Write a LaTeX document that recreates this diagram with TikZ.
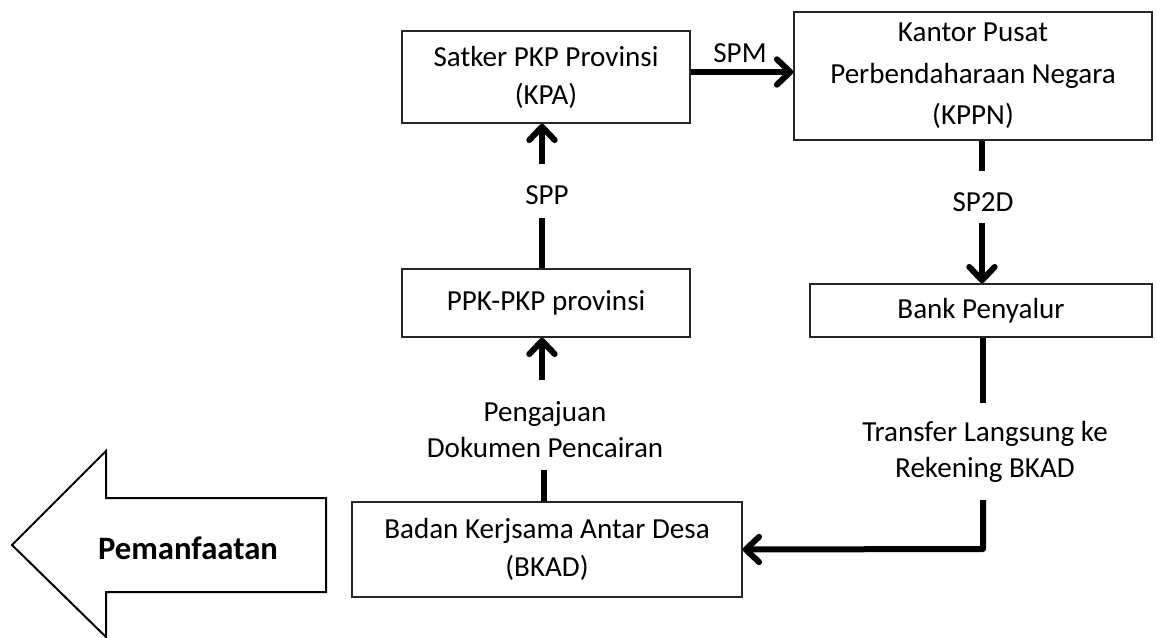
\documentclass[tikz,border=0pt]{standalone}
\usepackage{fontspec}
\setmainfont{Carlito}
\usetikzlibrary{arrows.meta,calc}
\begin{document}
\begin{tikzpicture}[x=0.75pt,y=-0.75pt,
  box/.style={draw=black!85,line width=1.1pt,rectangle,inner sep=0pt,align=center,
    font=\fontsize{21.8}{28.5}\selectfont},
  lbl/.style={inner sep=0pt,align=center,font=\fontsize{21.8}{27}\selectfont},
  conn/.style={line width=4.5pt,line join=round},
  arr/.style={conn,-{Straight Barb[length=10pt,width=19pt,round]}}
]
\useasboundingbox (0,0) rectangle (1157,638);
% boxes
\node[box,minimum width=216pt,minimum height=69pt] (sat) at (546,77) {Satker PKP Provinsi\\(KPA)};
\node[box,minimum width=268.5pt,minimum height=96pt,font=\fontsize{21.8}{31}\selectfont] (kppn) at (973,76) {Kantor Pusat\\Perbendaharaan Negara\\(KPPN)};
\node[box,minimum width=216pt,minimum height=51pt] (ppk) at (546,303) {PPK-PKP provinsi};
\node[box,minimum width=256.5pt,minimum height=39.75pt] (bank) at (981,310.5) {Bank Penyalur};
\node[box,minimum width=292.5pt,minimum height=71.25pt] (bkad) at (547,549.5) {Badan Kerjsama Antar Desa\\(BKAD)};
% labels
\node[lbl] (spm) at (740,53) {SPM};
\node[lbl] (spp) at (547,195) {SPP};
\node[lbl] (sp2d) at (983,202) {SP2D};
\node[lbl] (peng) at (545,430) {Pengajuan\\Dokumen Pencairan};
\node[lbl] (trans) at (985,452) {Transfer Langsung ke\\Rekening BKAD};
% connector break points
\coordinate (sppA) at (542,218);
\coordinate (sppB) at (542,164);
\coordinate (sp2dA) at (982,171);
\coordinate (sp2dB) at (982,223);
\coordinate (pengA) at (544,470);
\coordinate (pengB) at (542,380);
\coordinate (trA) at (983,403);
\coordinate (trB) at (983,500);
\coordinate (trC) at (983,549);
% connectors
\draw[arr] ($(sat.east)+(0,-5)$) -- ($(kppn.west)+(0,-4)$);
\draw[conn] (ppk.north -| sppA) -- (sppA);
\draw[arr] (sppB) -- (sat.south -| sppB);
\draw[conn] (kppn.south -| sp2dA) -- (sp2dA);
\draw[arr] (sp2dB) -- (bank.north -| sp2dB);
\draw[conn] (bkad.north -| pengA) -- (pengA);
\draw[arr] (pengB) -- (ppk.south -| pengB);
\draw[conn] (bank.south -| trA) -- (trA);
\draw[arr] (trB) -- (trC) -- (bkad.east);
% big arrow
\draw[line width=1.5pt,line join=miter] (12,545) -- (106,451) -- (106,498) -- (326,498)
  -- (326,592) -- (106,592) -- (106,637) -- cycle;
\node[lbl,font=\fontsize{24.5}{30}\selectfont\bfseries] (pem) at (188,548) {Pemanfaatan};
\end{tikzpicture}
\end{document}
